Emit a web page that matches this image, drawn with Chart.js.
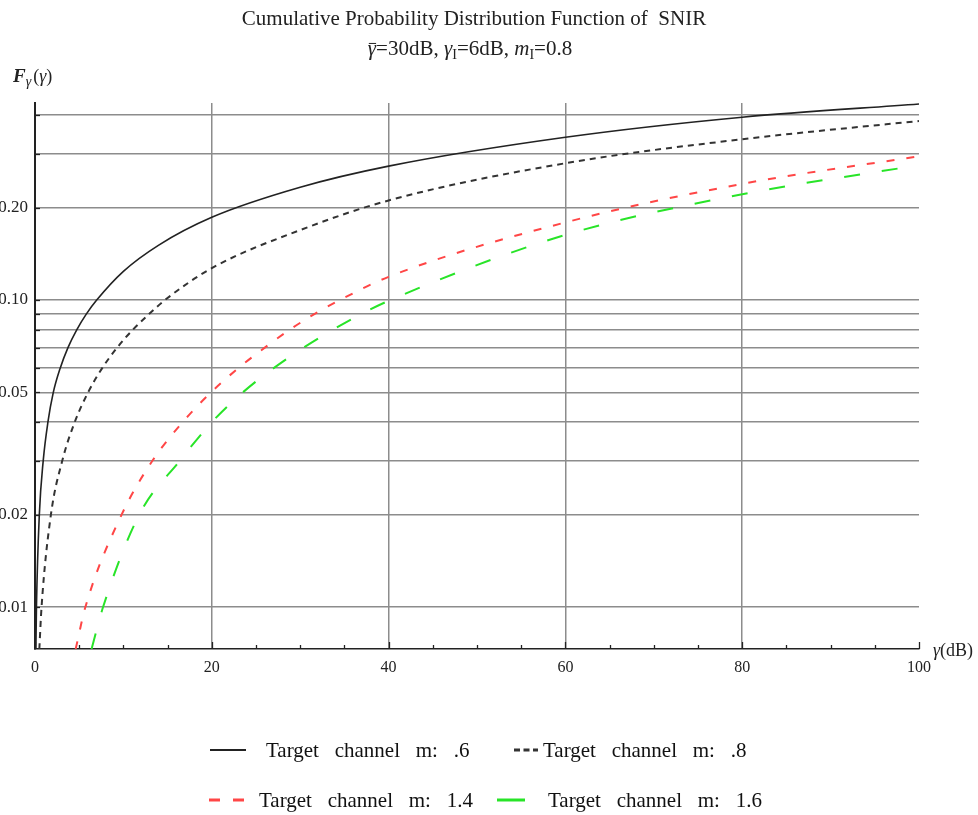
<!DOCTYPE html>
<html>
<head>
<meta charset="utf-8">
<title>SNIR CDF</title>
<script src="https://cdn.jsdelivr.net/npm/chart.js@4.4.0/dist/chart.umd.min.js"></script>
<style>
  html, body { margin: 0; padding: 0; background: #fff; }
  #wrap { position: relative; width: 978px; height: 815px; overflow: hidden; }
</style>
</head>
<body>
<div id="wrap"><canvas id="cdf" width="978" height="815"></canvas></div>
<script>
// axis ranges
var xMin = 0, xMax = 100, xStep = 20, xMinorStep = 5;
var yMin = 0.0073, yMax = 0.4383;
// horizontal grid values and which of them get a label
var yGridValues = [0.01, 0.02, 0.03, 0.04, 0.05, 0.06, 0.07, 0.08, 0.09, 0.1, 0.2, 0.3, 0.4];
var yLabelValues = [0.01, 0.02, 0.05, 0.1, 0.2];

var seriesLabels = [
  'Target   channel   m:   .6',
  'Target   channel   m:   .8',
  'Target   channel   m:   1.4',
  'Target   channel   m:   1.6'
];

// F(gamma) samples per target channel m
var m06X = [0.1, 0.165, 0.49, 0.93, 1.46, 2.07, 2.85, 3.73, 4.72, 5.8, 6.98, 10, 14, 20, 30, 40, 60, 80, 100];
var m06Y = [0.0073, 0.01, 0.02, 0.03, 0.04, 0.05, 0.06, 0.07, 0.08, 0.09, 0.1, 0.124, 0.151, 0.186, 0.233, 0.273, 0.339, 0.394, 0.435];

var m08X = [0.49, 0.74, 1.8, 3.09, 4.49, 6.0, 7.6, 9.3, 11.06, 12.9, 14.7, 20, 30, 40, 60, 80, 100];
var m08Y = [0.0073, 0.01, 0.02, 0.03, 0.04, 0.05, 0.06, 0.07, 0.08, 0.09, 0.1, 0.127, 0.169, 0.211, 0.279, 0.334, 0.383];

var m14X = [4.6, 5.7, 9.8, 13.3, 16.7, 19.9, 23.0, 26.0, 28.8, 31.6, 34.5, 40, 60, 80, 100];
var m14Y = [0.0073, 0.01, 0.02, 0.03, 0.04, 0.05, 0.06, 0.07, 0.08, 0.09, 0.1, 0.119, 0.179, 0.239, 0.294];

var m16X = [6.4, 7.7, 11.8, 16.4, 20, 23.5, 27, 30.4, 33.7, 36.9, 40.2, 60, 80, 100];
var m16Y = [0.0073, 0.01, 0.02, 0.03, 0.04, 0.05, 0.06, 0.07, 0.08, 0.09, 0.1, 0.163, 0.221, 0.275];

function toPoints(xs, ys) {
  return xs.map(function (x, i) { return { x: x, y: ys[i] }; });
}

var SERIF = '"Liberation Serif", "Times New Roman", serif';

// draws a run of text pieces (italic, subscript, overbar) centred or left aligned
function drawRuns(ctx, runs, x, baseline, align) {
  var total = 0;
  runs.forEach(function (r) {
    ctx.font = (r.style || '') + ' ' + r.size + 'px ' + SERIF;
    r.w = ctx.measureText(r.t).width;
    total += r.w + (r.gap || 0);
  });
  var cx = align === 'center' ? x - total / 2 : x;
  runs.forEach(function (r) {
    ctx.font = (r.style || '') + ' ' + r.size + 'px ' + SERIF;
    var by = baseline + (r.dy || 0);
    ctx.fillText(r.t, cx, by);
    if (r.bar) {
      ctx.beginPath();
      ctx.lineWidth = 1;
      ctx.moveTo(cx + 1, by - r.size * 0.55);
      ctx.lineTo(cx + r.w, by - r.size * 0.55);
      ctx.stroke();
    }
    cx += r.w + (r.gap || 0);
  });
}

var decorations = {
  id: 'decorations',
  afterDraw: function (chart) {
    var ctx = chart.ctx, a = chart.chartArea;
    var xs = chart.scales.x, ys = chart.scales.y;
    ctx.save();

    // inward tick marks on both axes
    ctx.strokeStyle = '#222';
    ctx.lineWidth = 1.3;
    for (var v = xMin; v <= xMax; v += xMinorStep) {
      var px = Math.round(xs.getPixelForValue(v)) + 0.5;
      var len = v % xStep === 0 ? 7 : 4;
      ctx.beginPath();
      ctx.moveTo(px, a.bottom);
      ctx.lineTo(px, a.bottom - len);
      ctx.stroke();
    }
    yGridValues.forEach(function (val) {
      var py = Math.round(ys.getPixelForValue(val)) + 0.5;
      ctx.beginPath();
      ctx.moveTo(a.left, py);
      ctx.lineTo(a.left + 5, py);
      ctx.stroke();
    });

    // title
    ctx.fillStyle = '#222';
    ctx.strokeStyle = '#222';
    ctx.textBaseline = 'alphabetic';
    drawRuns(ctx, [{ t: 'Cumulative Probability Distribution Function of  SNIR', size: 21 }], 474, 25, 'center');
    drawRuns(ctx, [
      { t: 'γ', size: 21, style: 'italic', bar: true },
      { t: '=30dB, ', size: 21 },
      { t: 'γ', size: 21, style: 'italic' },
      { t: 'I', size: 14, dy: 4 },
      { t: '=6dB, ', size: 21 },
      { t: 'm', size: 21, style: 'italic' },
      { t: 'I', size: 14, dy: 4 },
      { t: '=0.8', size: 21 }
    ], 470, 55, 'center');

    // axis titles
    drawRuns(ctx, [
      { t: 'F', size: 19, style: 'italic bold' },
      { t: 'γ', size: 14, style: 'italic', dy: 4, gap: 2 },
      { t: '(', size: 18 },
      { t: 'γ', size: 18, style: 'italic' },
      { t: ')', size: 18 }
    ], 13, 82, 'left');
    drawRuns(ctx, [
      { t: 'γ', size: 18, style: 'italic' },
      { t: '(dB)', size: 18 }
    ], 933, 656, 'left');

    // legend, two rows under the plot
    var slots = [
      { x: 210, y: 750, len: 36, tx: 266, dash: [], w: 2 },
      { x: 514, y: 750, len: 24, tx: 543, dash: [6, 3.5], w: 3 },
      { x: 209, y: 800, len: 36, tx: 259, dash: [11, 13], w: 3 },
      { x: 497, y: 800, len: 28, tx: 548, dash: [], w: 3 }
    ];
    chart.data.datasets.forEach(function (ds, i) {
      var s = slots[i];
      ctx.save();
      ctx.strokeStyle = ds.borderColor;
      ctx.lineWidth = s.w;
      ctx.setLineDash(s.dash);
      ctx.beginPath();
      ctx.moveTo(s.x, s.y);
      ctx.lineTo(s.x + s.len, s.y);
      ctx.stroke();
      ctx.restore();
      ctx.fillStyle = '#111';
      ctx.font = '21px ' + SERIF;
      ctx.fillText(ds.label, s.tx, s.y + 7);
    });

    ctx.restore();
  }
};

new Chart(document.getElementById('cdf'), {
  type: 'line',
  data: {
    datasets: [
      {
        label: seriesLabels[0],
        data: toPoints(m06X, m06Y),
        borderColor: '#222',
        borderWidth: 1.6
      },
      {
        label: seriesLabels[1],
        data: toPoints(m08X, m08Y),
        borderColor: '#333',
        borderWidth: 2,
        borderDash: [6, 5]
      },
      {
        label: seriesLabels[2],
        data: toPoints(m14X, m14Y),
        borderColor: 'rgb(255, 70, 70)',
        borderWidth: 2,
        borderDash: [8, 12]
      },
      {
        label: seriesLabels[3],
        data: toPoints(m16X, m16Y),
        borderColor: 'rgb(40, 228, 40)',
        borderWidth: 2,
        borderDash: [16, 22]
      }
    ]
  },
  options: {
    responsive: false,
    animation: false,
    devicePixelRatio: 1,
    layout: { padding: { top: 103, right: 59, bottom: 136, left: 0 } },
    elements: {
      point: { radius: 0 },
      line: { cubicInterpolationMode: 'monotone', fill: false }
    },
    plugins: {
      legend: { display: false },
      title: { display: false },
      tooltip: { enabled: false }
    },
    scales: {
      x: {
        type: 'linear',
        min: xMin,
        max: xMax,
        afterFit: function (scale) { scale.height = 30; },
        border: { display: true, color: '#222', width: 1.5 },
        grid: {
          drawTicks: false,
          lineWidth: 1.5,
          color: function (c) {
            var v = c.tick && c.tick.value;
            return (v === xMin || v === xMax) ? 'rgba(0,0,0,0)' : 'rgb(140,140,140)';
          }
        },
        ticks: {
          stepSize: xStep,
          padding: 9,
          autoSkip: false,
          maxRotation: 0,
          color: '#222',
          font: { family: SERIF, size: 16 }
        }
      },
      y: {
        type: 'logarithmic',
        min: yMin,
        max: yMax,
        bounds: 'data',
        afterFit: function (scale) { scale.width = 35; },
        afterBuildTicks: function (scale) {
          scale.ticks = yGridValues.map(function (v) { return { value: v }; });
        },
        border: { display: true, color: '#222', width: 2 },
        grid: {
          drawTicks: false,
          lineWidth: 1.5,
          color: 'rgb(140,140,140)'
        },
        ticks: {
          autoSkip: false,
          padding: 7,
          color: '#222',
          font: { family: SERIF, size: 17 },
          callback: function (value) {
            return yLabelValues.indexOf(value) >= 0 ? value.toFixed(2) : '';
          }
        }
      }
    }
  },
  plugins: [decorations]
});
</script>
</body>
</html>
